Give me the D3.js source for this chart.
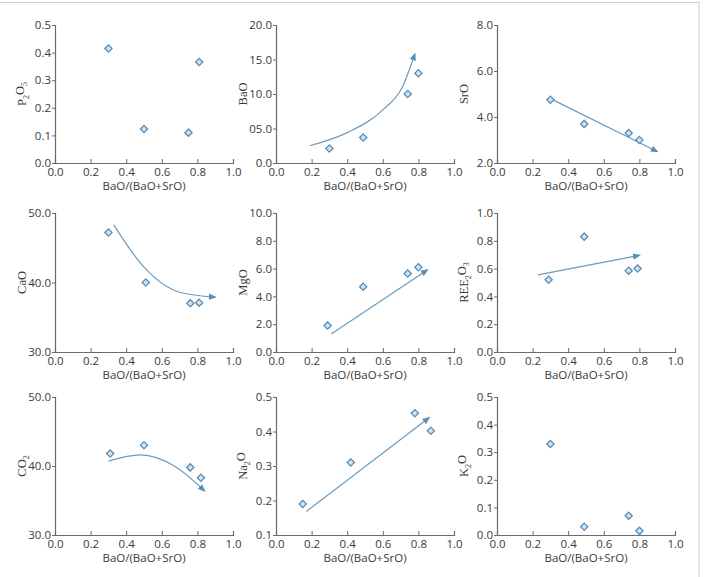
<!DOCTYPE html>
<html><head><meta charset="utf-8">
<script src="https://cdn.jsdelivr.net/npm/d3@7"></script>
<style>body{margin:0;background:#fff}svg{display:block}</style>
</head><body>
<script>
// x values shared label
const xLabel = "BaO/(BaO+SrO)";
const xTicks = [0, 0.2, 0.4, 0.6, 0.8, 1.0];

// Panel data
const p2o5X = [0.30, 0.50, 0.75, 0.81];
const p2o5Y = [0.415, 0.123, 0.110, 0.366];
const baoX = [0.30, 0.49, 0.74, 0.80];
const baoY = [2.1, 3.7, 10.0, 13.0];
const sroX = [0.30, 0.49, 0.74, 0.80];
const sroY = [4.75, 3.7, 3.3, 3.0];
const caoX = [0.30, 0.51, 0.76, 0.81];
const caoY = [47.2, 40.0, 37.0, 37.1];
const mgoX = [0.29, 0.49, 0.74, 0.80];
const mgoY = [1.9, 4.7, 5.65, 6.1];
const reeX = [0.29, 0.49, 0.74, 0.79];
const reeY = [0.52, 0.83, 0.585, 0.60];
const co2X = [0.31, 0.50, 0.76, 0.82];
const co2Y = [41.8, 43.0, 39.8, 38.3];
const na2oX = [0.15, 0.42, 0.78, 0.87];
const na2oY = [0.19, 0.31, 0.453, 0.402];
const k2oX = [0.30, 0.49, 0.74, 0.80];
const k2oY = [0.33, 0.03, 0.07, 0.015];

// Trend arrows (x, y pairs along the drawn arrow)
const baoTrend = [[0.19, 2.5], [0.40, 4.4], [0.60, 7.7], [0.71, 11.0], [0.78, 15.8]];
const sroTrend = [[0.30, 4.8], [0.90, 2.5]];
const caoTrend = [[0.33, 48.3], [0.50, 42.2], [0.70, 38.6], [0.90, 37.9]];
const mgoTrend = [[0.31, 1.3], [0.85, 5.9]];
const reeTrend = [[0.23, 0.555], [0.80, 0.695]];
const co2Trend = [[0.30, 40.7], [0.48, 41.6], [0.67, 40.0], [0.84, 36.4]];
const na2oTrend = [[0.17, 0.168], [0.86, 0.44]];

// Y tick labels
const p2o5Ticks = ["0.0","0.1","0.2","0.3","0.4","0.5"];
const baoTicks = ["0.0","05.0","10.0","15.0","20.0"];
const sroTicks = ["2.0","4.0","6.0","8.0"];
const caoTicks = ["30.0","40.0","50.0"];
const mgoTicks = ["0.0","2.0","4.0","6.0","8.0","10.0"];
const reeTicks = ["0.0","0.2","0.4","0.6","0.8","1.0"];
const co2Ticks = ["30.0","40.0","50.0"];
const na2oTicks = ["0.1","0.2","0.3","0.4","0.5"];
const k2oTicks = ["0.0","0.1","0.2","0.3","0.4","0.5"];

const panels = [
  {col:0,row:0,label:["P","2","O","5"],xs:p2o5X,ys:p2o5Y,ticks:p2o5Ticks,trend:null},
  {col:1,row:0,label:["BaO"],xs:baoX,ys:baoY,ticks:baoTicks,trend:baoTrend,curve:true},
  {col:2,row:0,label:["SrO"],xs:sroX,ys:sroY,ticks:sroTicks,trend:sroTrend},
  {col:0,row:1,label:["CaO"],xs:caoX,ys:caoY,ticks:caoTicks,trend:caoTrend,curve:true},
  {col:1,row:1,label:["MgO"],xs:mgoX,ys:mgoY,ticks:mgoTicks,trend:mgoTrend},
  {col:2,row:1,label:["REE","2","O","3"],xs:reeX,ys:reeY,ticks:reeTicks,trend:reeTrend},
  {col:0,row:2,label:["CO","2"],xs:co2X,ys:co2Y,ticks:co2Ticks,trend:co2Trend,curve:true},
  {col:1,row:2,label:["Na","2","O"],xs:na2oX,ys:na2oY,ticks:na2oTicks,trend:na2oTrend},
  {col:2,row:2,label:["K","2","O"],xs:k2oX,ys:k2oY,ticks:k2oTicks,trend:null}
];

const W = 705, H = 577;
const colL = [55, 276, 497], colW = 178;
const rowT = [25, 213, 397], rowB = [163, 352, 535];

const svg = d3.select("body").append("svg").attr("width", W).attr("height", H);
svg.append("rect").attr("x", -2).attr("y", 2.5).attr("width", 701).attr("height", 590)
  .attr("fill", "none").attr("stroke", "#cfcfcf").attr("stroke-width", 1.2);

const defs = svg.append("defs");
defs.append("marker").attr("id", "arr").attr("viewBox", "0 0 10 10")
  .attr("refX", 8).attr("refY", 5).attr("markerWidth", 8).attr("markerHeight", 8)
  .attr("markerUnits", "userSpaceOnUse").attr("orient", "auto")
  .append("path").attr("d", "M0,1 L10,5 L0,9 Z").attr("fill", "#5b90b5");

const axisCol = "#6a6a6a", textCol = "#3a3a3a";
const sans = "'Open Sans', 'Noto Sans', sans-serif";

panels.forEach(p => {
  const x0 = colL[p.col], y0 = rowT[p.row], y1 = rowB[p.row];
  const yVals = p.ticks.map(Number);
  const x = d3.scaleLinear().domain([0, 1]).range([x0, x0 + colW]);
  const y = d3.scaleLinear().domain([d3.min(yVals), d3.max(yVals)]).range([y1, y0]);
  const g = svg.append("g");

  const xa = g.append("g").attr("transform", `translate(0,${y1})`)
    .call(d3.axisBottom(x).tickValues(xTicks).tickSize(-4).tickPadding(6).tickFormat(d3.format(".1f")));
  const ya = g.append("g").attr("transform", `translate(${x0},0)`)
    .call(d3.axisLeft(y).tickValues(yVals).tickSize(3).tickPadding(1).tickFormat((d, i) => p.ticks[i]));
  [xa, ya].forEach(a => {
    a.select(".domain").attr("stroke", axisCol).attr("stroke-width", 1.2);
    a.selectAll(".tick line").attr("stroke", axisCol).attr("stroke-width", 1);
    a.selectAll("text").attr("fill", textCol).style("font-family", sans).style("font-size", "11.5px");
  });
  xa.selectAll("text").attr("dy", "0.6em");

  g.append("text").attr("x", x0 + colW / 2).attr("y", y1 + 27)
    .attr("text-anchor", "middle").attr("fill", textCol)
    .style("font-family", sans).style("font-size", "11.5px").text(xLabel);

  const yl = g.append("text")
    .attr("transform", `translate(${x0 - 29},${(y0 + y1) / 2}) rotate(-90)`)
    .attr("text-anchor", "middle").attr("fill", textCol)
    .style("font-family", "'Liberation Serif', serif").style("font-size", "12.5px");
  p.label.forEach((s, i) => {
    const sub = /^\d$/.test(s);
    yl.append("tspan").text(s)
      .attr("dy", sub ? "0.35em" : (i > 0 ? "-0.35em" : 0))
      .style("font-size", sub ? "8px" : null);
  });

  if (p.trend) {
    const line = d3.line().x(d => x(d[0])).y(d => y(d[1]))
      .curve(p.curve ? d3.curveMonotoneX : d3.curveLinear);
    g.append("path").attr("d", line(p.trend)).attr("fill", "none")
      .attr("stroke", "#6a9cbf").attr("stroke-width", 1.2).attr("marker-end", "url(#arr)");
  }

  const pts = p.xs.map((v, i) => [v, p.ys[i]]);
  g.selectAll("path.pt").data(pts).join("path").attr("class", "pt")
    .attr("transform", d => `translate(${x(d[0])},${y(d[1])}) rotate(45)`)
    .attr("d", d3.symbol(d3.symbolSquare, 26)())
    .attr("fill", "#cfe3f2").attr("stroke", "#5a8db5").attr("stroke-width", 1.3);
});
</script>
</body></html>
